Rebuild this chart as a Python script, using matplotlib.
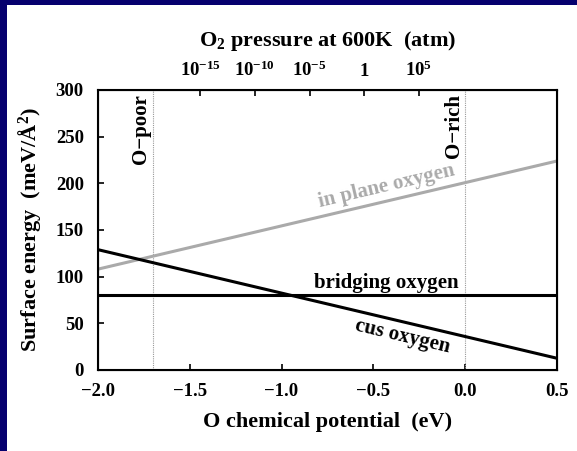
import numpy as np
import matplotlib
matplotlib.use("Agg")
import matplotlib.pyplot as plt
from matplotlib.patches import Rectangle

plt.rcParams['font.family'] = ['Liberation Serif', 'DejaVu Serif']
plt.rcParams['font.weight'] = 'bold'
plt.rcParams['mathtext.fontset'] = 'custom'
plt.rcParams['mathtext.rm'] = 'Liberation Serif:bold'
plt.rcParams['mathtext.it'] = 'Liberation Serif:bold'
plt.rcParams['mathtext.bf'] = 'Liberation Serif:bold'

# data (endpoints of the linear surface energies, meV/A^2)
mu_ends = [-2.0, 0.5]
in_plane = [108, 224]
bridging = [80, 80]
cus = [129, 12.5]

o_poor = -1.7
o_rich = 0.0

# top axis: O2 pressure at 600 K
p_exponents = [-15, -10, -5, 0, 5]
p_labels = [r'$10^{-15}$', r'$10^{-10}$', r'$10^{-5}$', '1', r'$10^{5}$']
mu_1atm = -0.55
kT = 8.617e-5 * 600
mu_p = [mu_1atm + 0.5 * kT * np.log(10) * e for e in p_exponents]

navy = '#06006e'
fig = plt.figure(figsize=(5.77, 4.51), dpi=100, facecolor=navy)
fig.patches.append(Rectangle((7 / 577, 0), 1, 1 - 5 / 451, transform=fig.transFigure,
                             facecolor='white', edgecolor='none', zorder=-10))

ax = fig.add_axes([97.7 / 577, 81 / 451, 459.6 / 577, 280 / 451])

ax.axvline(o_poor, color='#999999', lw=0.8, ls=(0, (1, 1)))
ax.axvline(o_rich, color='#999999', lw=0.8, ls=(0, (1, 1)))

ax.plot(mu_ends, in_plane, color='#aaaaaa', lw=2.2)
ax.plot(mu_ends, bridging, color='black', lw=2.2)
ax.plot(mu_ends, cus, color='black', lw=2.2)

ax.set_xlim(-2.0, 0.5)
ax.set_ylim(0, 300)
ax.set_xticks([-2.0, -1.5, -1.0, -0.5, 0.0, 0.5])
ax.set_xticklabels(['\u22122.0', '\u22121.5', '\u22121.0', '\u22120.5', '0.0', '0.5'])
ax.set_yticks(range(0, 301, 50))
ax.tick_params(direction='in', length=4, width=1.2, labelsize=13.5)
ax.tick_params(axis='x', pad=9)
ax.tick_params(axis='y', pad=10)
for s in ax.spines.values():
    s.set_linewidth(1.5)

ax.set_xlabel('O chemical potential  (eV)', fontsize=16, fontweight='bold', labelpad=9)
ax.set_ylabel('Surface energy  (meV/\u00c5$^2$)', fontsize=16, fontweight='bold', labelpad=9)

ax.text(o_poor - 0.01, 296, 'O\u2212poor', rotation=90, ha='right', va='top',
        fontsize=15, fontweight='bold')
ax.text(o_rich - 0.01, 296, 'O\u2212rich', rotation=90, ha='right', va='top',
        fontsize=15, fontweight='bold')
ax.text(-0.43, 197, 'in plane oxygen', rotation=13.3, ha='center', va='center',
        fontsize=15, fontweight='bold', color='#aaaaaa')
ax.text(-0.43, 82, 'bridging oxygen', ha='center', va='bottom',
        fontsize=15, fontweight='bold')
ax.text(-0.34, 36, 'cus oxygen', rotation=-13.3, ha='center', va='center',
        fontsize=15, fontweight='bold')

ax2 = ax.twiny()
ax2.set_xlim(ax.get_xlim())
ax2.set_xticks(mu_p)
ax2.set_xticklabels(p_labels)
ax2.tick_params(direction='in', length=4, width=1.2, labelsize=13.5, pad=7)
ax2.set_xlabel('O$_2$ pressure at 600K  (atm)', fontsize=16, fontweight='bold', labelpad=11)

fig.savefig('out.png', dpi=100, facecolor=navy)
